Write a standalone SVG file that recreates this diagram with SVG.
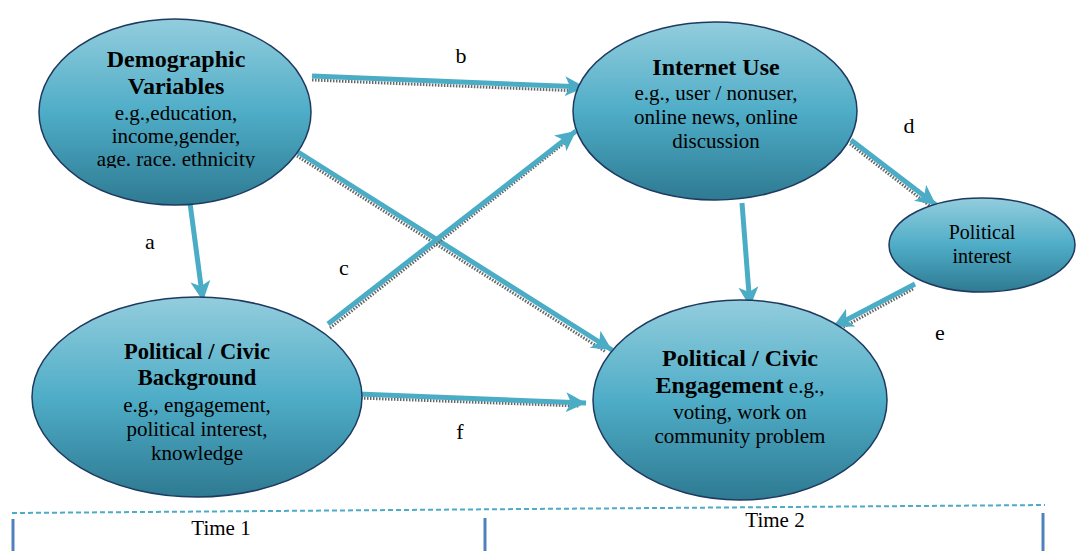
<svg xmlns="http://www.w3.org/2000/svg" width="1079" height="551" viewBox="0 0 1079 551">
<defs>
<linearGradient id="g" x1="0" y1="0" x2="0" y2="1">
<stop offset="0" stop-color="#93CDDD"/>
<stop offset="0.5" stop-color="#4FADC7"/>
<stop offset="1" stop-color="#2E7A92"/>
</linearGradient>
<marker id="ah" markerUnits="userSpaceOnUse" markerWidth="22" markerHeight="22" viewBox="0 0 22 22" refX="20" refY="11" orient="auto">
<path d="M0,1 L20,11 L0,21 L5,11 Z" fill="#4BACC6"/>
</marker>
<clipPath id="cl"><rect x="0" y="0" width="400" height="168"/></clipPath>
</defs>
<style>
.n{fill:url(#g);stroke:#1F3A60;stroke-width:1.5}
.t{font-family:"Liberation Serif","Times New Roman",serif;fill:#000;text-anchor:middle}
.b{font-weight:bold;font-size:24px}
.r{font-size:21px}
.lb{font-family:"Liberation Serif",serif;font-size:22px;fill:#000;text-anchor:middle}
.a{stroke:#4BACC6;stroke-width:5;fill:none;marker-end:url(#ah)}
.s{stroke:#666;stroke-width:3;stroke-dasharray:1.5 1.5;fill:none}
.tm{font-family:"Liberation Serif",serif;font-size:21px;fill:#000;text-anchor:middle}
</style>

<g id="connectors">
<line class="s" x1="312" y1="80" x2="580" y2="91"/>
<line class="a" x1="312" y1="76" x2="585" y2="87"/>
<line class="s" x1="297" y1="156" x2="606" y2="352"/>
<line class="a" x1="298" y1="152" x2="612" y2="350"/>
<line class="s" x1="330" y1="328" x2="572" y2="137"/>
<line class="a" x1="328" y1="324" x2="576" y2="131"/>
<line class="a" x1="190" y1="203" x2="203" y2="301"/>
<line class="s" x1="850" y1="144" x2="930" y2="206"/>
<line class="a" x1="851" y1="140" x2="936" y2="205"/>
<line class="a" x1="742" y1="203" x2="750" y2="307"/>
<line class="s" x1="913" y1="289" x2="838" y2="330"/>
<line class="a" x1="915" y1="284" x2="833" y2="327"/>
<line class="s" x1="358" y1="398" x2="580" y2="406"/>
<line class="a" x1="358" y1="394" x2="586" y2="403"/>
</g>

<g id="demographic">
<ellipse class="n" cx="175" cy="112" rx="136" ry="93"/>
<text class="t b" x="176" y="67">Demographic</text>
<text class="t b" x="176" y="94">Variables</text>
<text class="t r" x="176" y="120">e.g.,education,</text>
<text class="t r" x="176" y="143">income,gender,</text>
<text class="t r" x="176" y="166" clip-path="url(#cl)">age. race. ethnicity</text>
</g>

<g id="internet">
<ellipse class="n" cx="715" cy="111" rx="142" ry="89"/>
<text class="t b" x="716" y="75">Internet Use</text>
<text class="t r" x="716" y="100">e.g., user / nonuser,</text>
<text class="t r" x="716" y="124">online news, online</text>
<text class="t r" x="716" y="148">discussion</text>
</g>

<g id="interest">
<ellipse class="n" cx="982" cy="245" rx="93" ry="47"/>
<text class="t" x="982" y="239" style="font-size:20px">Political</text>
<text class="t" x="982" y="263" style="font-size:20px">interest</text>
</g>

<g id="background">
<ellipse class="n" cx="197" cy="397" rx="165" ry="100"/>
<text class="t b" x="197" y="359" style="font-size:22.5px">Political / Civic</text>
<text class="t b" x="197" y="385" style="font-size:22.5px">Background</text>
<text class="t r" x="197" y="412">e.g., engagement,</text>
<text class="t r" x="197" y="436">political interest,</text>
<text class="t r" x="197" y="460">knowledge</text>
</g>

<g id="engagement">
<ellipse class="n" cx="740" cy="400" rx="147" ry="100"/>
<text class="t b" x="740" y="366">Political / Civic</text>
<text class="t" x="740" y="393"><tspan class="b">Engagement</tspan><tspan class="r"> e.g.,</tspan></text>
<text class="t r" x="740" y="419">voting, work on</text>
<text class="t r" x="740" y="443">community problem</text>
</g>

<g id="labels">
<text class="lb" x="461" y="63">b</text>
<text class="lb" x="909" y="133">d</text>
<text class="lb" x="150" y="249">a</text>
<text class="lb" x="344" y="275">c</text>
<text class="lb" x="940" y="340">e</text>
<text class="lb" x="460" y="439">f</text>
</g>

<g id="timeline">
<line x1="12" y1="513" x2="1045" y2="505" stroke="#4BACC6" stroke-width="2" stroke-dasharray="5 3"/>
<line x1="13" y1="519" x2="13" y2="551" stroke="#4F81BD" stroke-width="3"/>
<line x1="485" y1="518" x2="485" y2="551" stroke="#4F81BD" stroke-width="3"/>
<line x1="1043" y1="513" x2="1043" y2="551" stroke="#4F81BD" stroke-width="3"/>
<text class="tm" x="221" y="535">Time  1</text>
<text class="tm" x="775" y="527">Time 2</text>
</g>
</svg>
